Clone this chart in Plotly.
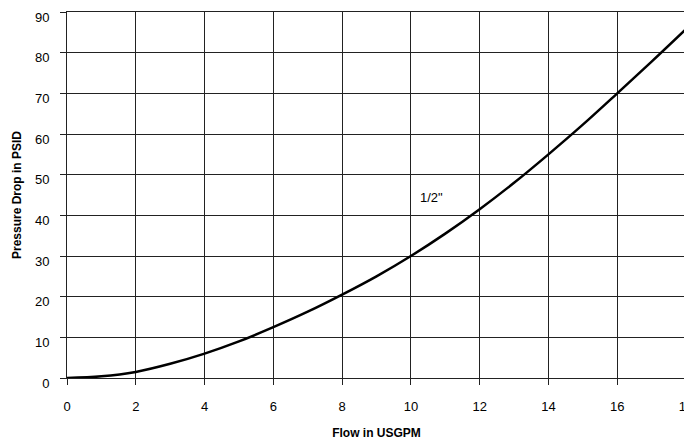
import plotly.graph_objects as go

flow = [0, 1, 2, 3, 4, 5, 6, 7, 8, 9, 10, 11, 12, 13, 14, 15, 16, 17, 18]
pressure = [0, 0.4, 1.5, 3.5, 6, 9, 12.5, 16.3, 20.5, 25, 30, 35.5, 41.5, 48, 55, 62.3, 70, 77.8, 85.8]
label_text = '1/2"'
label_x, label_y = 10.6, 44.3

fig = go.Figure()
fig.add_trace(go.Scatter(x=flow, y=pressure, mode="lines",
                         line=dict(color="black", width=2.5, shape="spline"),
                         showlegend=False, hoverinfo="skip", cliponaxis=False))
fig.add_annotation(x=label_x, y=label_y, text=label_text, showarrow=False,
                   font=dict(size=13, color="black"))

axis_common = dict(showgrid=True, gridcolor="#222", gridwidth=1,
                   showline=True, linecolor="#222", linewidth=1, mirror=True,
                   ticks="outside", ticklen=6, tickcolor="#222",
                   tickfont=dict(size=13, color="black"), zeroline=False,
                   automargin=False)
fig.update_xaxes(range=[0, 18], dtick=2, tick0=0, ticklabelstandoff=10,
                 title=dict(text="<b>Flow in USGPM</b>", font=dict(size=12, color="black"), standoff=16),
                 **axis_common)
fig.update_yaxes(range=[0, 90], dtick=10, tick0=0, ticklabelstandoff=8,
                 ticklabelshift=5,
                 title=dict(text="<b>Pressure Drop in PSID</b>", font=dict(size=12, color="black"), standoff=10),
                 **axis_common)
fig.update_layout(width=692, height=444, margin=dict(l=59, r=14, t=4, b=74),
                  paper_bgcolor="white", plot_bgcolor="white",
                  font=dict(family="Liberation Sans, Arial, sans-serif"))
fig.write_html("out.html")
